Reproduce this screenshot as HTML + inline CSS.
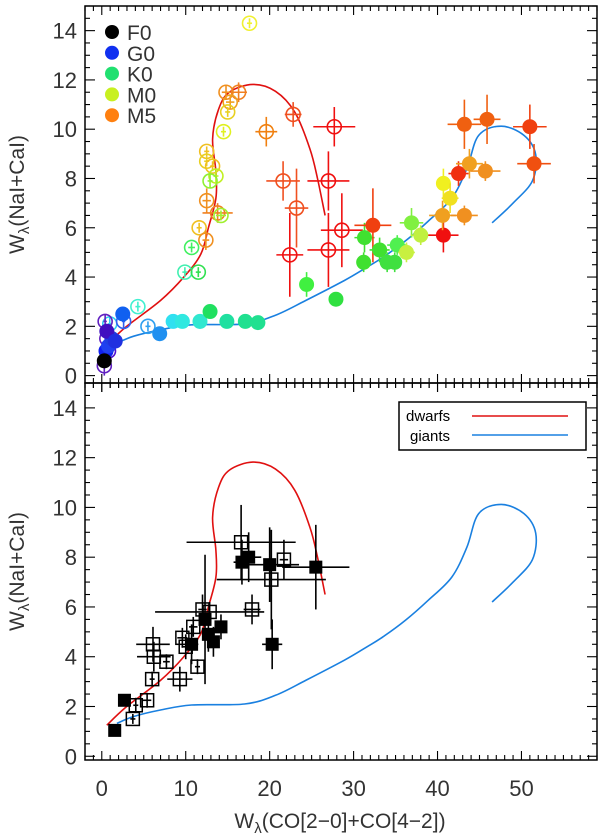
<!DOCTYPE html>
<html><head><meta charset="utf-8"><style>
body{margin:0;background:#fff;}
svg{display:block;font-family:"Liberation Sans",sans-serif;}
</style></head><body>
<svg id="chart" width="600" height="837" xmlns="http://www.w3.org/2000/svg"></svg>
<script>
// ---------- data ----------
const xTicks = [0, 10, 20, 30, 40, 50];
const yTicks = [0, 2, 4, 6, 8, 10, 12, 14];
const legendTypes = ["F0", "G0", "K0", "M0", "M5"];
const legendColors = ["#000000", "#1030f0", "#20e070", "#c8f020", "#ff8010"];
// dwarf sequence curve
const dwarfX = [0.6, 2.9, 7.0, 9.75, 11.8, 12.7, 13.6, 13.6, 13.2, 13.9, 15.2, 18.0, 20.7, 23.0, 24.8, 25.7, 26.6];
const dwarfY = [1.25, 1.98, 3.05, 3.99, 4.93, 6.0, 7.2, 8.27, 9.6, 10.8, 11.5, 11.82, 11.54, 10.69, 9.2, 8.0, 6.5];
// giant sequence curve
const giantX = [1.8, 3.8, 7.0, 10.7, 17.0, 20.7, 24.3, 28.9, 31.6, 33.5, 36.2, 38.9, 41.7, 43.5, 44.9, 47.6, 50.3, 51.7, 51.3, 49.0, 46.5];
const giantY = [1.32, 1.6, 1.86, 2.06, 2.1, 2.45, 3.05, 3.86, 4.4, 4.8, 5.47, 6.27, 7.2, 8.4, 9.75, 10.12, 9.75, 8.97, 7.9, 7.0, 6.2];
// top panel: open circles (dwarf stars)
const openX = [17.6, 14.8, 16.3, 15.3, 15.0, 14.5, 19.6, 22.8, 12.5, 12.5, 13.2, 13.6, 12.9, 12.5, 13.8, 14.2, 11.6, 12.4, 10.7, 9.9, 11.5, 21.6, 23.2, 22.4, 27.7, 27.0, 28.6, 27.0, 4.3, 5.5, 0.95, 2.6, 0.4, 0.6, 0.3, 0.8];
const openY = [14.3, 11.5, 11.5, 11.1, 10.7, 9.9, 9.9, 10.6, 9.1, 8.7, 8.5, 8.1, 7.9, 7.1, 6.6, 6.5, 6.0, 5.5, 5.2, 4.2, 4.2, 7.9, 6.8, 4.9, 10.1, 7.9, 5.9, 5.1, 2.8, 2.0, 2.1, 2.2, 2.2, 1.5, 0.4, 1.0];
const openXE = [0.3, 0.5, 1.0, 0.5, 0.3, 0.3, 1.3, 1.0, 0.3, 0.3, 0.3, 0.3, 0.3, 0.5, 1.8, 0.6, 0.3, 0.4, 0.4, 0.3, 0.3, 2.0, 1.4, 1.6, 2.5, 2.5, 2.5, 2.5, 0.3, 0.3, 0.2, 0.2, 0.2, 0.2, 0.2, 0.2];
const openYE = [0.2, 0.3, 0.4, 0.3, 0.2, 0.2, 0.6, 0.5, 0.2, 0.2, 0.2, 0.3, 0.3, 0.5, 0.4, 0.2, 0.2, 0.4, 0.2, 0.2, 0.2, 0.8, 1.6, 1.7, 0.8, 1.2, 1.5, 1.5, 0.2, 0.2, 0.3, 0.3, 0.3, 0.3, 0.4, 0.3];
const openC = ["#f0f030", "#f09020", "#f08020", "#f0a020", "#e8d020", "#e0f020", "#f08010", "#f05020", "#f0c020", "#e8d020", "#f0c020", "#c0f020", "#90f030", "#f09020", "#f08020", "#a0f030", "#f0c020", "#f09020", "#40f060", "#40f0b0", "#30e050", "#f05020", "#f05020", "#f01010", "#f01010", "#f01010", "#f01010", "#f01010", "#40f0d0", "#30a0f0", "#30d0f0", "#3060f0", "#6020c0", "#6020c0", "#6020c0", "#5010d0"];
// top panel: filled circles (giant stars)
const fillX = [2.5, 6.9, 8.5, 9.6, 11.7, 12.9, 14.9, 17.1, 18.6, 24.4, 27.9, 31.3, 32.3, 31.2, 33.1, 34.0, 34.9, 35.2, 36.9, 36.3, 38.0, 40.7, 40.6, 40.7, 41.5, 42.5, 43.2, 43.8, 45.7, 43.2, 45.9, 51.0, 51.5, 0.5, 0.8, 1.2, 0.3, 0.6, 1.6];
const fillY = [2.5, 1.7, 2.2, 2.2, 2.2, 2.6, 2.2, 2.2, 2.15, 3.7, 3.1, 5.6, 6.1, 4.6, 5.1, 4.6, 4.6, 5.3, 6.2, 5.0, 5.7, 5.7, 6.5, 7.8, 7.2, 8.2, 10.2, 8.6, 8.3, 6.5, 10.4, 10.1, 8.6, 1.0, 1.2, 1.5, 0.6, 1.8, 1.4];
const fillXE = [0.2, 0.3, 0.4, 0.4, 0.4, 0.3, 0.3, 0.3, 0.3, 0.8, 0.5, 1.2, 2.2, 0.6, 1.2, 0.8, 0.8, 1.2, 1.4, 1.0, 1.2, 1.8, 1.6, 0.6, 1.0, 1.2, 2.0, 1.6, 1.8, 1.6, 1.6, 2.0, 2.0, 0.2, 0.2, 0.2, 0.2, 0.2, 0.2];
const fillYE = [0.3, 0.2, 0.2, 0.2, 0.3, 0.2, 0.2, 0.2, 0.2, 0.5, 0.2, 0.6, 1.5, 0.4, 0.5, 0.4, 0.4, 0.4, 0.6, 0.4, 0.4, 0.7, 0.6, 0.6, 0.6, 0.5, 1.0, 0.6, 0.4, 0.4, 1.0, 0.9, 0.8, 0.3, 0.3, 0.3, 0.3, 0.3, 0.3];
const fillC = ["#1060f0", "#2090f0", "#30e0f0", "#30e8e0", "#30e8d0", "#20e060", "#20e0a0", "#20e090", "#20e090", "#40f040", "#30e040", "#40e030", "#f04010", "#40e030", "#40e030", "#40e040", "#40e040", "#50f050", "#80f040", "#c8f040", "#c0f040", "#f01010", "#f0a020", "#f0f020", "#f0e020", "#f03010", "#f06010", "#f0a020", "#f09020", "#f09020", "#f06010", "#f04010", "#f05010", "#1020f0", "#2040f0", "#2040e0", "#000000", "#4010c0", "#2030e0"];
// bottom panel: filled squares
const sqFX = [1.54, 2.7, 16.7, 17.5, 20.0, 25.5, 20.3, 10.7, 12.3, 12.7, 13.3, 14.2];
const sqFY = [1.04, 2.25, 7.8, 8.0, 7.7, 7.6, 4.5, 4.5, 5.5, 4.9, 4.6, 5.2];
const sqFXE = [0.3, 0.3, 1.0, 1.5, 3.5, 4.0, 1.2, 0.8, 0.6, 0.5, 0.5, 0.6];
const sqFYE = [0.2, 0.2, 0.9, 1.0, 1.5, 1.7, 1.0, 0.8, 2.6, 0.7, 0.6, 0.5];
// bottom panel: open squares
const sqOX = [3.7, 4.05, 5.4, 6.0, 6.1, 6.2, 7.7, 9.3, 9.6, 10.0, 10.9, 11.4, 12.0, 12.85, 16.6, 17.9, 20.2, 21.7];
const sqOY = [1.5, 2.05, 2.25, 3.1, 4.5, 4.0, 3.8, 3.1, 4.76, 4.4, 5.2, 3.6, 5.9, 5.8, 8.6, 5.9, 7.1, 7.9];
const sqOXE = [0.3, 0.3, 0.5, 0.3, 2.0, 2.0, 0.4, 1.5, 0.6, 0.5, 0.5, 0.3, 0.5, 6.5, 6.5, 1.0, 6.5, 0.5];
const sqOYE = [0.2, 0.3, 0.3, 0.3, 0.7, 0.6, 0.3, 0.5, 0.4, 0.5, 0.4, 0.3, 0.6, 0.4, 1.5, 0.6, 2.0, 0.8];

// ---------- layout ----------
const NS = "http://www.w3.org/2000/svg";
const svg = document.getElementById("chart");
const L = 85, R = 597;
const XMIN = -2, XMAX = 59;
const panelTop = {y0: 6, y1: 383, ymin: -0.3, ymax: 15};
const panelBot = {y0: 383, y1: 760, ymin: -0.15, ymax: 15};
function sx(v){ return L + (v - XMIN) / (XMAX - XMIN) * (R - L); }
function syF(p){ return v => p.y1 - (v - p.ymin) / (p.ymax - p.ymin) * (p.y1 - p.y0); }
function mk(tag, attrs, parent){
  const e = document.createElementNS(NS, tag);
  for (const k in attrs) e.setAttribute(k, attrs[k]);
  (parent || svg).appendChild(e);
  return e;
}
function line(g, x1, y1, x2, y2, c, w){ return mk("line", {x1, y1, x2, y2, stroke: c, "stroke-width": w || 1}, g); }

function drawAxes(p, name){
  const sy = syF(p);
  const g = mk("g", {});
  
  
  mk("rect", {x: L, y: p.y0, width: R - L, height: p.y1 - p.y0, fill: "none", stroke: "#000", "stroke-width": 1.5}, g);
  for (let v = -2; v <= 59; v++){
    const x = sx(v); const major = v % 10 === 0;
    const len = major ? 9 : 5;
    line(g, x, p.y1, x, p.y1 - len, "#000", 1.1);
    line(g, x, p.y0, x, p.y0 + len, "#000", 1.1);
    if (name === "top"){ line(g, x, p.y1, x, p.y1 + len, "#000", 1.1); }
  }
  for (let k = 0; k <= 30; k++){
    const v = k * 0.5; const y = sy(v);
    if (y < p.y0 || y > p.y1) continue;
    const major = k % 4 === 0;
    const len = major ? 10 : 5;
    line(g, L, y, L + len, y, "#000", 1.1);
    line(g, R, y, R - len, y, "#000", 1.1);
  }
  yTicks.forEach(v => {
    const t = mk("text", {x: 77, y: sy(v) + 8, "text-anchor": "end", "font-size": 22, fill: "#333"}, g);
    t.textContent = v;
  });
  const tx = 24, ty = (p.y0 + p.y1) / 2;
  const t = mk("text", {x: tx, y: ty, "text-anchor": "middle", "font-size": 21, fill: "#333", transform: `rotate(-90 ${tx} ${ty})`}, g);
  
  
  t.innerHTML = 'W<tspan font-size="15" dy="5">λ</tspan><tspan dy="-5">(NaI+CaI)</tspan>';
  return sy;
}
function curve(sy, xs, ys, c, name){
  const P = xs.map((v, i) => [sx(v), sy(ys[i])]);
  let d = "M" + P[0][0].toFixed(1) + "," + P[0][1].toFixed(1);
  for (let i = 0; i < P.length - 1; i++){
    const p0 = P[Math.max(0, i - 1)], p1 = P[i], p2 = P[i + 1], p3 = P[Math.min(P.length - 1, i + 2)];
    const c1 = [p1[0] + (p2[0] - p0[0]) / 6, p1[1] + (p2[1] - p0[1]) / 6];
    const c2 = [p2[0] - (p3[0] - p1[0]) / 6, p2[1] - (p3[1] - p1[1]) / 6];
    d += "C" + c1[0].toFixed(1) + "," + c1[1].toFixed(1) + " " + c2[0].toFixed(1) + "," + c2[1].toFixed(1) + " " + p2[0].toFixed(1) + "," + p2[1].toFixed(1);
  }
  const p = mk("path", {d, fill: "none", stroke: c, "stroke-width": 1.6});
  
  
}
function errbar(sy, x, y, xe, ye, c, w){
  line(svg, sx(x - xe), sy(y), sx(x + xe), sy(y), c, w);
  line(svg, sx(x), sy(y - ye), sx(x), sy(y + ye), c, w);
}

// ---------- top panel ----------
const syT = drawAxes(panelTop, "top");
curve(syT, dwarfX, dwarfY, "#e01010", "dwarf-sequence-top");
curve(syT, giantX, giantY, "#1a80e0", "giant-sequence-top");
openX.forEach((v, i) => {
  errbar(syT, v, openY[i], openXE[i], openYE[i], openC[i], 1.6);
  const c = mk("circle", {cx: sx(v), cy: syT(openY[i]), r: 7, fill: "none", stroke: openC[i], "stroke-width": 1.6});
  
  
});
fillX.forEach((v, i) => {
  errbar(syT, v, fillY[i], fillXE[i], fillYE[i], fillC[i], 1.6);
  const c = mk("circle", {cx: sx(v), cy: syT(fillY[i]), r: 7.5, fill: fillC[i]});
  
  
});
legendTypes.forEach((s, i) => {
  const y = 32 + i * 20.8;
  const g = mk("g", {});
  
  
  mk("circle", {cx: 112, cy: y, r: 7, fill: legendColors[i]}, g);
  const t = mk("text", {x: 127, y: y + 8, "font-size": 21, fill: "#333"}, g);
  t.textContent = s;
});

// ---------- bottom panel ----------
const syB = drawAxes(panelBot, "bottom");
curve(syB, dwarfX, dwarfY, "#e01010", "dwarf-sequence-bottom");
curve(syB, giantX, giantY, "#1a80e0", "giant-sequence-bottom");
sqOX.forEach((v, i) => {
  errbar(syB, v, sqOY[i], sqOXE[i], sqOYE[i], "#000", 1.6);
  const r = mk("rect", {x: sx(v) - 6.5, y: syB(sqOY[i]) - 6.5, width: 13, height: 13, fill: "none", stroke: "#000", "stroke-width": 1.5});
  
  
});
sqFX.forEach((v, i) => {
  errbar(syB, v, sqFY[i], sqFXE[i], sqFYE[i], "#000", 1.6);
  const r = mk("rect", {x: sx(v) - 6.5, y: syB(sqFY[i]) - 6.5, width: 13, height: 13, fill: "#000"});
  
  
});
xTicks.forEach(v => {
  const t = mk("text", {x: sx(v), y: 796, "text-anchor": "middle", "font-size": 22, fill: "#333"});
  t.textContent = v;
});
const xt = mk("text", {x: 340, y: 828, "text-anchor": "middle", "font-size": 21, fill: "#333"});


xt.innerHTML = 'W<tspan font-size="15" dy="5">λ</tspan><tspan dy="-5">(CO[2−0]+CO[4−2])</tspan>';

// legend box
const lg = mk("g", {});


mk("rect", {x: 399, y: 402, width: 187, height: 48, fill: "#fff", stroke: "#000", "stroke-width": 1.5}, lg);
const t1 = mk("text", {x: 406, y: 421, "font-size": 15, fill: "#000"}, lg); t1.textContent = "dwarfs";
const t2 = mk("text", {x: 410, y: 441, "font-size": 15, fill: "#000"}, lg); t2.textContent = "giants";
line(lg, 472, 416, 568, 416, "#e01010", 1.6);
line(lg, 472, 435, 568, 435, "#1a80e0", 1.6);
</script>
</body></html>
